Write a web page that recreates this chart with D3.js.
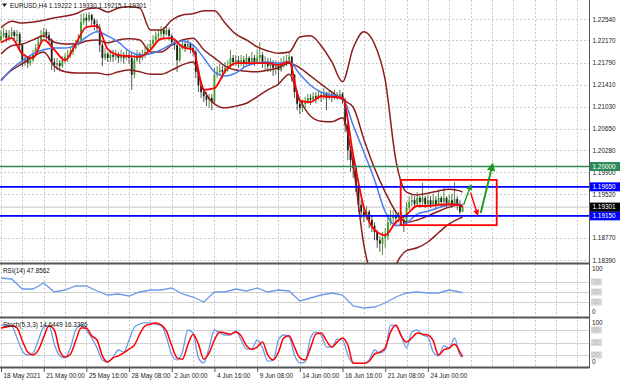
<!DOCTYPE html>
<html>
<head>
<meta charset="utf-8">
<script src="https://cdn.jsdelivr.net/npm/d3@7"></script>
<style>
    body { margin: 0; background: #fff; }
    svg { display: block; font-family: "Liberation Sans", Arial, sans-serif; font-size: 6.4px; }
</style>
</head>
<body>
<div id="chart"></div>
<script>
// ---- data ----
const SYMBOL = "EURUSD,H4";
const LAST_OHLC = [1.19222, 1.19330, 1.19215, 1.19301];

const TIME_LABELS = ["18 May 2021", "21 May 00:00", "25 May 16:00", "28 May 08:00", "2 Jun 00:00",
    "4 Jun 16:00", "9 Jun 08:00", "14 Jun 00:00", "16 Jun 16:00", "21 Jun 08:00", "24 Jun 00:00"];
const TIME_LABEL_STEP = 16;   // bars between time labels
const GRID_STEP = 8;          // bars between vertical grid lines

const PRICE_TICKS = [1.22540, 1.22170, 1.21790, 1.21410, 1.21030, 1.20650,
    1.20280, 1.19900, 1.19520, 1.19150, 1.18770, 1.18390];
const TARGET_LEVEL = 1.20000;
const SR_LEVELS = [1.19650, 1.19150];

// [open, high, low, close]
const candles = [
    [1.2218,1.2235,1.2214,1.2225],[1.2225,1.2239,1.2221,1.2230],[1.2230,1.2235,1.2214,1.2221],[1.2221,1.2235,1.2218,1.2226],
    [1.2226,1.2240,1.2221,1.2232],[1.2232,1.2235,1.2218,1.2225],[1.2225,1.2235,1.2214,1.2228],[1.2228,1.2232,1.2201,1.2209],
    [1.2209,1.2211,1.2171,1.2180],[1.2180,1.2194,1.2173,1.2187],[1.2187,1.2190,1.2170,1.2178],[1.2178,1.2192,1.2173,1.2183],
    [1.2183,1.2201,1.2180,1.2194],[1.2194,1.2211,1.2190,1.2204],[1.2204,1.2221,1.2201,1.2214],[1.2214,1.2235,1.2211,1.2225],
    [1.2225,1.2239,1.2221,1.2232],[1.2232,1.2237,1.2218,1.2226],[1.2226,1.2232,1.2211,1.2218],[1.2218,1.2221,1.2166,1.2180],
    [1.2180,1.2187,1.2163,1.2175],[1.2175,1.2187,1.2166,1.2178],[1.2178,1.2183,1.2164,1.2173],[1.2173,1.2190,1.2170,1.2183],
    [1.2183,1.2195,1.2178,1.2189],[1.2189,1.2201,1.2180,1.2192],[1.2192,1.2206,1.2187,1.2197],[1.2197,1.2213,1.2192,1.2204],
    [1.2204,1.2218,1.2201,1.2211],[1.2211,1.2228,1.2208,1.2218],[1.2218,1.2263,1.2214,1.2249],[1.2249,1.2264,1.2244,1.2256],
    [1.2256,1.2263,1.2242,1.2252],[1.2252,1.2266,1.2249,1.2261],[1.2261,1.2263,1.2244,1.2252],[1.2252,1.2256,1.2235,1.2245],
    [1.2245,1.2252,1.2232,1.2239],[1.2239,1.2245,1.2197,1.2209],[1.2209,1.2214,1.2173,1.2187],[1.2187,1.2204,1.2183,1.2194],
    [1.2194,1.2197,1.2180,1.2187],[1.2187,1.2201,1.2180,1.2192],[1.2192,1.2201,1.2180,1.2189],[1.2189,1.2201,1.2183,1.2194],
    [1.2194,1.2197,1.2178,1.2187],[1.2187,1.2201,1.2180,1.2190],[1.2190,1.2197,1.2177,1.2187],[1.2187,1.2201,1.2183,1.2192],
    [1.2192,1.2197,1.2177,1.2187],[1.2187,1.2197,1.2132,1.2158],[1.2158,1.2192,1.2152,1.2183],[1.2183,1.2201,1.2180,1.2194],
    [1.2194,1.2197,1.2177,1.2187],[1.2187,1.2201,1.2183,1.2192],[1.2192,1.2206,1.2187,1.2197],[1.2197,1.2211,1.2194,1.2204],
    [1.2204,1.2218,1.2201,1.2211],[1.2211,1.2226,1.2208,1.2218],[1.2218,1.2232,1.2214,1.2225],[1.2225,1.2235,1.2218,1.2228],
    [1.2228,1.2242,1.2223,1.2235],[1.2235,1.2240,1.2221,1.2228],[1.2228,1.2242,1.2225,1.2235],[1.2235,1.2239,1.2218,1.2225],
    [1.2225,1.2228,1.2208,1.2214],[1.2214,1.2218,1.2201,1.2209],[1.2209,1.2213,1.2163,1.2183],[1.2183,1.2211,1.2180,1.2204],
    [1.2204,1.2218,1.2201,1.2211],[1.2211,1.2216,1.2197,1.2206],[1.2206,1.2218,1.2201,1.2211],[1.2211,1.2214,1.2195,1.2204],
    [1.2204,1.2211,1.2190,1.2197],[1.2197,1.2201,1.2152,1.2163],[1.2163,1.2166,1.2128,1.2140],[1.2140,1.2146,1.2118,1.2128],
    [1.2128,1.2135,1.2111,1.2121],[1.2121,1.2128,1.2104,1.2115],[1.2115,1.2125,1.2101,1.2118],[1.2118,1.2125,1.2097,1.2111],
    [1.2111,1.2170,1.2108,1.2158],[1.2158,1.2173,1.2152,1.2163],[1.2163,1.2177,1.2156,1.2166],[1.2166,1.2173,1.2152,1.2163],
    [1.2163,1.2180,1.2159,1.2170],[1.2170,1.2183,1.2163,1.2173],[1.2173,1.2201,1.2170,1.2187],[1.2187,1.2192,1.2173,1.2180],
    [1.2180,1.2192,1.2173,1.2183],[1.2183,1.2190,1.2170,1.2177],[1.2177,1.2192,1.2173,1.2183],[1.2183,1.2190,1.2170,1.2178],
    [1.2178,1.2194,1.2175,1.2187],[1.2187,1.2190,1.2173,1.2180],[1.2180,1.2197,1.2177,1.2187],[1.2187,1.2192,1.2173,1.2180],
    [1.2180,1.2201,1.2177,1.2187],[1.2187,1.2214,1.2180,1.2192],[1.2192,1.2197,1.2170,1.2177],[1.2177,1.2190,1.2166,1.2180],
    [1.2180,1.2187,1.2163,1.2173],[1.2173,1.2187,1.2163,1.2177],[1.2177,1.2183,1.2156,1.2170],[1.2170,1.2183,1.2158,1.2173],
    [1.2173,1.2180,1.2144,1.2166],[1.2166,1.2187,1.2163,1.2177],[1.2177,1.2190,1.2170,1.2180],[1.2180,1.2192,1.2173,1.2183],
    [1.2183,1.2197,1.2177,1.2189],[1.2189,1.2190,1.2146,1.2158],[1.2158,1.2159,1.2118,1.2128],[1.2128,1.2132,1.2097,1.2108],
    [1.2108,1.2115,1.2090,1.2101],[1.2101,1.2115,1.2094,1.2108],[1.2108,1.2120,1.2101,1.2111],[1.2111,1.2125,1.2108,1.2118],
    [1.2118,1.2125,1.2106,1.2115],[1.2115,1.2128,1.2111,1.2121],[1.2121,1.2128,1.2109,1.2118],[1.2118,1.2132,1.2115,1.2123],
    [1.2123,1.2128,1.2111,1.2120],[1.2120,1.2135,1.2115,1.2127],[1.2127,1.2128,1.2097,1.2118],[1.2118,1.2132,1.2115,1.2123],
    [1.2123,1.2128,1.2111,1.2120],[1.2120,1.2132,1.2115,1.2123],[1.2123,1.2128,1.2115,1.2121],[1.2121,1.2132,1.2116,1.2125],
    [1.2125,1.2128,1.2108,1.2115],[1.2115,1.2118,1.2059,1.2071],[1.2071,1.2077,1.2011,1.2028],[1.2028,1.2032,1.1991,1.2011],
    [1.2011,1.2015,1.1980,1.1997],[1.1997,1.2003,1.1956,1.1968],[1.1968,1.1973,1.1922,1.1934],[1.1934,1.1942,1.1911,1.1922],
    [1.1922,1.1929,1.1904,1.1915],[1.1915,1.1932,1.1908,1.1922],[1.1922,1.1925,1.1894,1.1908],[1.1908,1.1915,1.1887,1.1898],
    [1.1898,1.1904,1.1873,1.1887],[1.1887,1.1891,1.1860,1.1873],[1.1873,1.1880,1.1853,1.1867],[1.1867,1.1887,1.1848,1.1877],
    [1.1877,1.1894,1.1860,1.1880],[1.1880,1.1918,1.1873,1.1904],[1.1904,1.1925,1.1898,1.1911],[1.1911,1.1925,1.1901,1.1915],
    [1.1915,1.1922,1.1898,1.1911],[1.1911,1.1922,1.1904,1.1917],[1.1917,1.1922,1.1898,1.1908],[1.1908,1.1917,1.1887,1.1901],
    [1.1901,1.1939,1.1898,1.1929],[1.1929,1.1949,1.1925,1.1939],[1.1939,1.1953,1.1932,1.1942],[1.1942,1.1949,1.1929,1.1935],
    [1.1935,1.1956,1.1932,1.1946],[1.1946,1.1949,1.1929,1.1939],[1.1939,1.1972,1.1932,1.1946],[1.1946,1.1949,1.1929,1.1935],
    [1.1935,1.1951,1.1930,1.1942],[1.1942,1.1949,1.1929,1.1934],[1.1934,1.1953,1.1932,1.1942],[1.1942,1.1949,1.1929,1.1935],
    [1.1935,1.1960,1.1932,1.1946],[1.1946,1.1949,1.1930,1.1939],[1.1939,1.1963,1.1935,1.1946],[1.1946,1.1949,1.1929,1.1937],
    [1.1937,1.1951,1.1934,1.1942],[1.1942,1.1953,1.1929,1.1935],[1.1935,1.1973,1.1934,1.1944],[1.1944,1.1949,1.1925,1.1935],
    [1.1935,1.1942,1.1918,1.1922],[1.19222,1.19330,1.19215,1.19301]
];

// indicator lines, one value every LINE_STEP bars, the last one on the last bar
const LINE_STEP = 4;
const maFast = [1.2213,1.2221,1.2194,1.2187,1.2218,1.2201,1.2183,1.2211,1.2240,1.2242,1.2202,1.2192,1.2190,1.2189,1.2201,
    1.2220,1.2221,1.2206,1.2201,1.2132,1.2135,1.2164,1.2178,1.2178,1.2178,1.2178,1.2175,1.2180,1.2113,1.2111,
    1.2121,1.2120,1.2118,1.2020,1.1930,1.1891,1.1882,1.1904,1.1917,1.1932,1.1932,1.1934,1.1935,1.1934,1.1930];
const maSlow = [1.2147,1.2168,1.2182,1.2194,1.2201,1.2204,1.2204,1.2209,1.2223,1.2232,1.2225,1.2214,1.2199,1.2192,1.2194,
    1.2201,1.2211,1.2216,1.2209,1.2187,1.2163,1.2156,1.2161,1.2173,1.2178,1.2180,1.2178,1.2180,1.2159,1.2140,
    1.2128,1.2123,1.2118,1.2071,1.2025,1.1977,1.1922,1.1898,1.1903,1.1918,1.1923,1.1929,1.1934,1.1935,1.1932];
const bbUpper = [1.2239,1.2250,1.2247,1.2249,1.2252,1.2256,1.2259,1.2263,1.2271,1.2273,1.2266,1.2273,1.2275,1.2273,1.2235,
    1.2235,1.2252,1.2261,1.2263,1.2268,1.2268,1.2247,1.2228,1.2218,1.2206,1.2199,1.2195,1.2197,1.2223,1.2225,
    1.2208,1.2180,1.2146,1.2204,1.2232,1.2211,1.2149,1.2011,1.1956,1.1951,1.1954,1.1958,1.1961,1.1958,1.1956];
const bbMiddle = [1.2194,1.2208,1.2211,1.2218,1.2225,1.2214,1.2211,1.2211,1.2216,1.2218,1.2213,1.2218,1.2220,1.2218,1.2197,
    1.2197,1.2209,1.2218,1.2221,1.2201,1.2187,1.2173,1.2166,1.2164,1.2163,1.2166,1.2170,1.2178,1.2170,1.2156,
    1.2142,1.2128,1.2115,1.2102,1.2047,1.1997,1.1956,1.1922,1.1904,1.1908,1.1915,1.1923,1.1930,1.1934,1.1934];
const bbLower = [1.2149,1.2166,1.2177,1.2189,1.2197,1.2173,1.2163,1.2161,1.2161,1.2161,1.2158,1.2163,1.2166,1.2163,1.2159,
    1.2159,1.2166,1.2175,1.2180,1.2132,1.2108,1.2101,1.2104,1.2109,1.2120,1.2132,1.2142,1.2159,1.2115,1.2087,
    1.2078,1.2077,1.2084,1.2003,1.1865,1.1796,1.1770,1.1830,1.1855,1.1860,1.1870,1.1886,1.1901,1.1911,1.1913];

const RSI_NAME = "RSI(14)";
const RSI_LEVELS = [70, 50, 30];
const rsi = [78,76,56,56,68,50,54,62,62,52,44,46,42,50,54,54,58,46,40,30,50,50,56,52,58,50,54,52,32,38,
    44,48,44,22,18,20,28,40,48,50,48,48,54,50,47.8562];

const STOCH_NAME = "Stoch(5,3,3)";
const STOCH_LEVELS = [80, 50, 20];
const STOCH_STEP = 2;
const stochMain = [92,92,90,61,30,20,25,56,87,90,46,18,13,37,80,92,80,61,37,8,3,15,32,27,56,87,94,97,97,94,
    92,63,20,8,27,80,73,13,1,37,80,73,68,68,78,56,34,34,56,37,5,8,56,68,63,20,1,3,61,75,
    68,39,39,58,56,20,0,0,0,8,32,25,32,92,90,68,37,75,80,68,63,27,18,42,37,61,20,14.6449];
const stochSignal = [85,87,90,85,54,27,20,32,63,90,80,30,15,22,54,85,85,66,56,18,3,13,18,25,34,44,70,90,94,97,
    92,78,42,13,10,44,70,46,10,25,56,75,73,70,75,66,42,34,39,51,20,8,27,61,66,39,13,8,37,70,
    73,54,39,51,61,44,1,0,0,5,22,27,37,75,92,66,51,61,73,70,68,54,20,32,37,46,27,16.3386];

// drawn annotations: consolidation box and the three arrows (bar index, price)
const rangeBox = { from: 149.8, to: 185.8, high: 1.1977, low: 1.1899 };
const arrows = [
    { from: [173.4, 1.1934], to: [175.7, 1.1963] },
    { from: [176.0, 1.1955], to: [178.3, 1.1922] },
    { from: [179.8, 1.1920], to: [183.9, 1.1997] }
];

class MetaChart {
    constructor(parent) {
        this.parent = parent;
        this.width = 620;
        this.height = 382;
        this.axisX = 589.5;
        this.main = { top: 0, bottom: 263 };
        this.rsiPane = { top: 264, bottom: 317 };
        this.stochPane = { top: 318, bottom: 367 };
        this.barStep = 2.668;

        this.initVis();
    }

    initVis() {
        const vis = this;

        vis.svg = d3.select(vis.parent)
            .append("svg")
            .attr("width", vis.width)
            .attr("height", vis.height);

        vis.defs = vis.svg.append("defs");
        [["mainClip", vis.main], ["rsiClip", vis.rsiPane], ["stochClip", vis.stochPane]].forEach(([id, p]) => {
            vis.defs.append("clipPath").attr("id", id)
                .append("rect")
                .attr("x", 0).attr("y", p.top)
                .attr("width", vis.axisX).attr("height", p.bottom - p.top);
        });
        [["headGreen", "#1d9a1d"], ["headRed", "#ff0000"]].forEach(([id, c]) => {
            vis.defs.append("marker").attr("id", id)
                .attr("viewBox", "0 0 10 10")
                .attr("refX", 3).attr("refY", 5)
                .attr("markerWidth", 4.4).attr("markerHeight", 4.4)
                .attr("orient", "auto")
                .append("path").attr("d", "M0,0L10,5L0,10z").attr("fill", c);
        });

        vis.xScale = d3.scaleLinear()
            .domain([0, 160])
            .range([1, 1 + 160 * vis.barStep]);

        vis.yPrice = d3.scaleLinear()
            .domain([PRICE_TICKS[PRICE_TICKS.length - 1], PRICE_TICKS[0]])
            .range([260, 19]);

        vis.yRsi = d3.scaleLinear().domain([0, 100]).range([317, 267]);
        vis.yStoch = d3.scaleLinear().domain([0, 100]).range([363.3, 321.7]);

        vis.lastBar = candles.length - 1;

        vis.drawGrid();
        vis.drawMain();
        vis.drawOscillators();
        vis.drawAxes();
    }

    // turns a stepped indicator array into [bar, value] points
    points(arr, step) {
        const vis = this;
        return arr.map((v, k) => [k === arr.length - 1 ? vis.lastBar : k * step, v]);
    }

    drawGrid() {
        const vis = this;
        const grid = vis.svg.append("g").attr("class", "grid");

        const maxBar = Math.floor((vis.axisX - 1) / vis.barStep);
        const vBars = d3.range(0, maxBar + 1, GRID_STEP);

        grid.selectAll(".vgrid")
            .data(vBars)
            .join("line")
            .attr("x1", d => Math.round(vis.xScale(d)) + 0.5)
            .attr("x2", d => Math.round(vis.xScale(d)) + 0.5)
            .attr("y1", 0)
            .attr("y2", vis.stochPane.bottom)
            .attr("stroke", "#c9c9c9")
            .attr("stroke-dasharray", "2,2");

        grid.selectAll(".hgrid")
            .data(PRICE_TICKS)
            .join("line")
            .attr("x1", 0)
            .attr("x2", vis.axisX)
            .attr("y1", d => Math.round(vis.yPrice(d)) + 0.5)
            .attr("y2", d => Math.round(vis.yPrice(d)) + 0.5)
            .attr("stroke", "#c9c9c9")
            .attr("stroke-dasharray", "2,2");
    }

    drawMain() {
        const vis = this;
        const g = vis.svg.append("g").attr("clip-path", "url(#mainClip)");

        // current bid line
        g.append("line")
            .attr("x1", 0).attr("x2", vis.axisX)
            .attr("y1", vis.yPrice(LAST_OHLC[3])).attr("y2", vis.yPrice(LAST_OHLC[3]))
            .attr("stroke", "#c4c4c4").attr("stroke-width", 1);

        // candles
        const bar = g.selectAll(".candle")
            .data(candles)
            .join("g")
            .attr("class", "candle");

        bar.append("line")
            .attr("x1", (d, i) => vis.xScale(i))
            .attr("x2", (d, i) => vis.xScale(i))
            .attr("y1", d => vis.yPrice(d[1]))
            .attr("y2", d => vis.yPrice(d[2]))
            .attr("stroke", d => d[3] >= d[0] ? "#2f6f1c" : "#2b2b2b")
            .attr("stroke-width", 0.8);

        bar.append("rect")
            .attr("x", (d, i) => vis.xScale(i) - 0.9)
            .attr("width", 1.8)
            .attr("y", d => vis.yPrice(Math.max(d[0], d[3])))
            .attr("height", d => Math.max(0.8, Math.abs(vis.yPrice(d[0]) - vis.yPrice(d[3]))))
            .attr("fill", d => d[3] >= d[0] ? "#3f9a2a" : "#1e1e1e");

        const curve = d3.line()
            .x(d => vis.xScale(d[0]))
            .y(d => vis.yPrice(d[1]))
            .curve(d3.curveMonotoneX);

        [bbUpper, bbMiddle, bbLower].forEach(band => {
            g.append("path")
                .datum(vis.points(band, LINE_STEP))
                .attr("d", curve)
                .attr("fill", "none")
                .attr("stroke", "#8c1d1d")
                .attr("stroke-width", 1.5);
        });

        g.append("path")
            .datum(vis.points(maSlow, LINE_STEP))
            .attr("d", curve)
            .attr("fill", "none")
            .attr("stroke", "#4a7cf0")
            .attr("stroke-width", 1.5);

        g.append("path")
            .datum(vis.points(maFast, LINE_STEP))
            .attr("d", curve)
            .attr("fill", "none")
            .attr("stroke", "#ff0000")
            .attr("stroke-width", 1.8);

        // horizontal levels
        g.append("line")
            .attr("x1", 0).attr("x2", vis.axisX)
            .attr("y1", vis.yPrice(TARGET_LEVEL)).attr("y2", vis.yPrice(TARGET_LEVEL))
            .attr("stroke", "#2e8b57").attr("stroke-width", 1.4);

        g.selectAll(".sr")
            .data(SR_LEVELS)
            .join("line")
            .attr("x1", 0).attr("x2", vis.axisX)
            .attr("y1", d => vis.yPrice(d)).attr("y2", d => vis.yPrice(d))
            .attr("stroke", "#0000ff").attr("stroke-width", 1.8);

        // consolidation box
        g.append("rect")
            .attr("x", vis.xScale(rangeBox.from))
            .attr("y", vis.yPrice(rangeBox.high))
            .attr("width", vis.xScale(rangeBox.to) - vis.xScale(rangeBox.from))
            .attr("height", vis.yPrice(rangeBox.low) - vis.yPrice(rangeBox.high))
            .attr("fill", "none")
            .attr("stroke", "#ff0000")
            .attr("stroke-width", 1.8);

        g.selectAll(".arrow")
            .data(arrows)
            .join("line")
            .attr("x1", d => vis.xScale(d.from[0]))
            .attr("y1", d => vis.yPrice(d.from[1]))
            .attr("x2", d => vis.xScale(d.to[0]))
            .attr("y2", d => vis.yPrice(d.to[1]))
            .attr("stroke", d => d.to[1] > d.from[1] ? "#1d9a1d" : "#ff0000")
            .attr("stroke-width", (d, i) => i === arrows.length - 1 ? 1.9 : 1.4)
            .attr("marker-end", d => d.to[1] > d.from[1] ? "url(#headGreen)" : "url(#headRed)");

        // title
        vis.svg.append("path")
            .attr("d", "M2,3.5L7,3.5L4.5,7z")
            .attr("fill", "#222");
        vis.svg.append("text")
            .attr("x", 10).attr("y", 8)
            .attr("fill", "#111")
            .text(`${SYMBOL} ${LAST_OHLC.map(d => d.toFixed(5)).join(" ")}`);
    }

    drawOscillators() {
        const vis = this;

        const levelLines = (pane, levels, yScale) => {
            vis.svg.append("g").selectAll("line")
                .data(levels)
                .join("line")
                .attr("x1", 0).attr("x2", vis.axisX)
                .attr("y1", d => Math.round(yScale(d)) + 0.5)
                .attr("y2", d => Math.round(yScale(d)) + 0.5)
                .attr("stroke", "#d0d0d0")
                .attr("stroke-width", 1);
        };

        levelLines(vis.rsiPane, RSI_LEVELS, vis.yRsi);
        levelLines(vis.stochPane, STOCH_LEVELS, vis.yStoch);

        const rsiLine = d3.line()
            .x(d => vis.xScale(d[0]))
            .y(d => vis.yRsi(d[1]));

        vis.svg.append("g").attr("clip-path", "url(#rsiClip)")
            .append("path")
            .datum(vis.points(rsi, LINE_STEP))
            .attr("d", rsiLine)
            .attr("fill", "none")
            .attr("stroke", "#6d9bea")
            .attr("stroke-width", 1.3);

        const stochLine = d3.line()
            .x(d => vis.xScale(d[0]))
            .y(d => vis.yStoch(d[1]))
            .curve(d3.curveMonotoneX);

        const sg = vis.svg.append("g").attr("clip-path", "url(#stochClip)");
        sg.append("path")
            .datum(vis.points(stochMain, STOCH_STEP))
            .attr("d", stochLine)
            .attr("fill", "none")
            .attr("stroke", "#6d9bea")
            .attr("stroke-width", 1.3);
        sg.append("path")
            .datum(vis.points(stochSignal, STOCH_STEP))
            .attr("d", stochLine)
            .attr("fill", "none")
            .attr("stroke", "#ff0000")
            .attr("stroke-width", 1.5);

        vis.svg.append("text")
            .attr("x", 3).attr("y", vis.rsiPane.top + 9)
            .attr("fill", "#111")
            .text(`${RSI_NAME} ${rsi[rsi.length - 1].toFixed(4)}`);

        vis.svg.append("text")
            .attr("x", 3).attr("y", vis.stochPane.top + 9)
            .attr("fill", "#111")
            .text(`${STOCH_NAME} ${stochMain[stochMain.length - 1].toFixed(4)} ${stochSignal[stochSignal.length - 1].toFixed(4)}`);
    }

    drawAxes() {
        const vis = this;

        // pane borders
        [vis.main.bottom, vis.rsiPane.bottom, vis.stochPane.bottom].forEach(y => {
            vis.svg.append("line")
                .attr("x1", 0).attr("x2", vis.axisX)
                .attr("y1", y + 0.5).attr("y2", y + 0.5)
                .attr("stroke", "#555").attr("stroke-width", 2);
        });
        vis.svg.append("line")
            .attr("x1", vis.axisX).attr("x2", vis.axisX)
            .attr("y1", 0).attr("y2", vis.stochPane.bottom + 1)
            .attr("stroke", "#555").attr("stroke-width", 1);

        // price axis
        const priceAxis = vis.svg.append("g")
            .attr("transform", `translate(${vis.axisX}, 0)`)
            .call(d3.axisRight(vis.yPrice)
                .tickValues(PRICE_TICKS.filter(p => !SR_LEVELS.includes(p)))
                .tickSize(0)
                .tickPadding(3)
                .tickFormat(d3.format(".5f")));
        priceAxis.select(".domain").remove();
        priceAxis.selectAll("text").attr("fill", "#222").style("font-size", "6.4px")
            .style("font-family", "'Liberation Sans', Arial, sans-serif");

        const tags = [
            { p: TARGET_LEVEL, c: "#2e8b57" },
            ...SR_LEVELS.map(p => ({ p, c: "#0000ff" })),
            { p: LAST_OHLC[3], c: "#000000" }
        ];
        const tag = vis.svg.append("g").selectAll("g")
            .data(tags)
            .join("g")
            .attr("transform", d => `translate(${vis.axisX + 0.5}, ${vis.yPrice(d.p)})`);
        tag.append("rect")
            .attr("x", 0).attr("y", -4.5)
            .attr("width", 30).attr("height", 9)
            .attr("fill", d => d.c);
        tag.append("text")
            .attr("x", 2.5).attr("dy", "0.33em")
            .attr("fill", "#fff")
            .text(d => d.p.toFixed(5));

        // oscillator scale labels
        const paneLabels = (pane, levels, yScale) => {
            const g = vis.svg.append("g");
            g.append("text").attr("x", vis.axisX + 2.5).attr("y", pane.top + 5).attr("dy", "0.33em")
                .attr("fill", "#222").text("100");
            g.append("text").attr("x", vis.axisX + 2.5).attr("y", pane.bottom - 5).attr("dy", "0.33em")
                .attr("fill", "#222").text("0");
            const lv = g.selectAll(".lv").data(levels).join("g")
                .attr("transform", d => `translate(${vis.axisX + 1.5}, ${yScale(d)})`);
            lv.append("rect").attr("x", 0).attr("y", -3.5).attr("width", 11).attr("height", 7)
                .attr("fill", "#d9d9d9");
            lv.append("text").attr("x", 1.5).attr("dy", "0.33em").attr("fill", "#bdbdbd").text(d => d);
        };
        paneLabels(vis.rsiPane, RSI_LEVELS, vis.yRsi);
        paneLabels(vis.stochPane, STOCH_LEVELS, vis.yStoch);

        // time axis
        const timeAxis = vis.svg.append("g")
            .attr("transform", `translate(0, ${vis.stochPane.bottom + 1})`)
            .call(d3.axisBottom(vis.xScale)
                .tickValues(TIME_LABELS.map((d, i) => i * TIME_LABEL_STEP))
                .tickSize(4)
                .tickPadding(1)
                .tickFormat((d, i) => TIME_LABELS[i]));
        timeAxis.select(".domain").remove();
        timeAxis.selectAll(".tick line").attr("stroke", "#555");
        timeAxis.selectAll("text")
            .attr("text-anchor", "start")
            .attr("x", 2)
            .attr("fill", "#222")
            .style("font-size", "6.4px")
            .style("font-family", "'Liberation Sans', Arial, sans-serif");
    }
}

document.addEventListener("DOMContentLoaded", function () {
    window.metaChart = new MetaChart("#chart");
});
</script>
</body>
</html>
